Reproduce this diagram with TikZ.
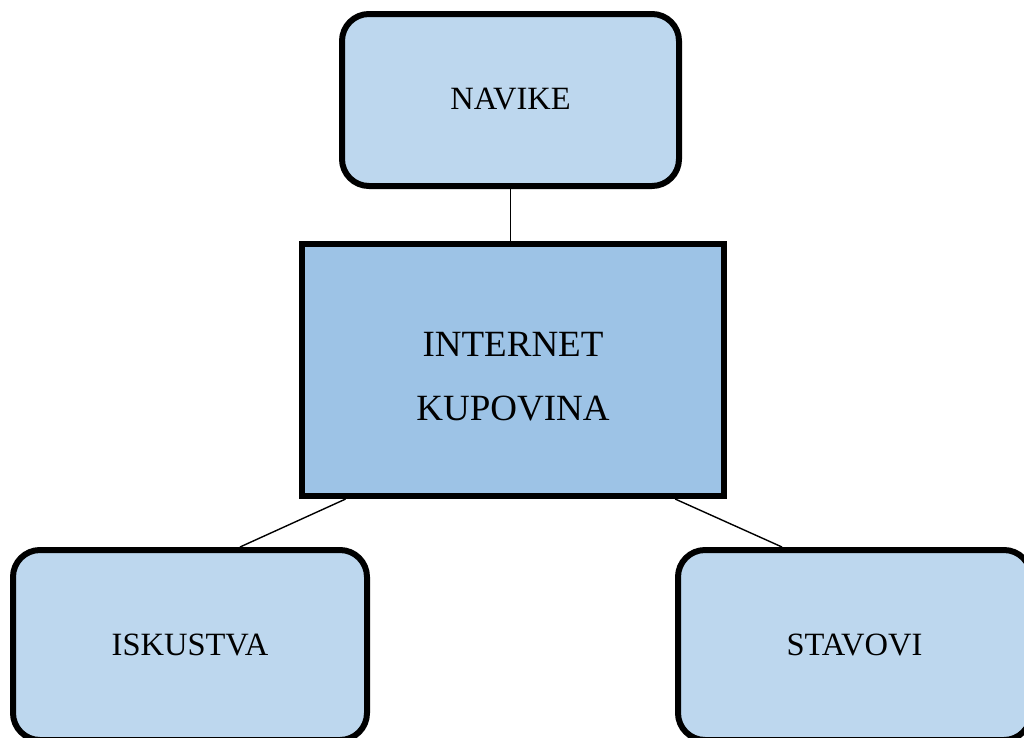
\documentclass[tikz,border=0pt]{standalone}
\usepackage{fontspec}
\setmainfont{Liberation Serif}
\usetikzlibrary{calc}
\definecolor{lightbox}{HTML}{BDD7EE}
\definecolor{midbox}{HTML}{9DC3E6}
\begin{document}
\begin{tikzpicture}[x=1pt,y=-1pt,
  softbox/.style={draw=black, line width=6pt, fill=lightbox, rounded corners=27pt, inner sep=0pt, font=\fontsize{32.5}{38}\selectfont},
  mainbox/.style={draw=black, line width=6pt, fill=midbox, inner sep=0pt},
  maintext/.style={inner sep=0pt, align=center, font=\fontsize{37}{64}\selectfont},
  link/.style={draw=black, line width=1.4pt}]
\useasboundingbox (0,0) rectangle (1024,737);
\node[softbox, minimum width=337pt, minimum height=172pt, text depth=3pt] (navike) at (510.5,100) {NAVIKE};
\node[mainbox, minimum width=422.5pt, minimum height=252pt] (internet) at (512.75,370) {};
\node[maintext] (internettext) at (513,376.5) {INTERNET\\KUPOVINA};
\node[softbox, minimum width=354pt, minimum height=190pt] (iskustva) at (190,645) {ISKUSTVA};
\node[softbox, minimum width=353pt, minimum height=190pt] (stavovi) at (854.5,645) {STAVOVI};
\draw[link] (navike.south) -- (navike.south |- internet.north);
\draw[link] ($(internet.south west)!0.11!(internet.south east)$) -- ($(iskustva.north)+(50,0)$);
\draw[link] ($(internet.south west)!0.879!(internet.south east)$) -- ($(stavovi.north)+(-72.5,0)$);
\end{tikzpicture}
\end{document}
